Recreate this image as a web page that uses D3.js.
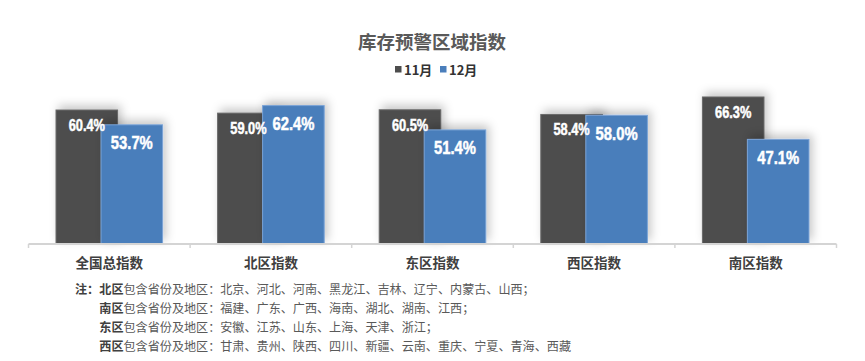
<!DOCTYPE html>
<html>
<head>
<meta charset="utf-8">
<script src="https://cdn.jsdelivr.net/npm/d3@7/dist/d3.min.js"></script>
<style>
  html, body { margin: 0; padding: 0; background: #fff; }
  svg { display: block; font-family: "Noto Sans CJK SC", "Noto Sans", sans-serif; }
</style>
</head>
<body>
<svg id="chart" width="865" height="361"></svg>
<script>
const title = "库存预警区域指数";
const categories = ["全国总指数", "北区指数", "东区指数", "西区指数", "南区指数"];
const seriesNames = ["11月", "12月"];
const nov = [0.604, 0.590, 0.605, 0.584, 0.663];
const dec = [0.537, 0.624, 0.514, 0.580, 0.471];
const colors = ["#4d4d4d", "#4a7ebb"];
const strokes = ["#6a6a6a", "#7aa3d6"];
const noteLead = "注：";
const noteRegions = ["北区", "南区", "东区", "西区"];
const noteMid = "包含省份及地区：";
const noteLists = [
  "北京、河北、河南、黑龙江、吉林、辽宁、内蒙古、山西；",
  "福建、广东、广西、海南、湖北、湖南、江西；",
  "安徽、江苏、山东、上海、天津、浙江；",
  "甘肃、贵州、陕西、四川、新疆、云南、重庆、宁夏、青海、西藏"
];

const svg = d3.select("#chart");

const defs = svg.append("defs");
const f = defs.append("filter").attr("id", "shadow")
  .attr("x", "-30%").attr("y", "-30%").attr("width", "160%").attr("height", "160%");
f.append("feDropShadow").attr("dx", 3).attr("dy", -4).attr("stdDeviation", 5)
  .attr("flood-color", "#000").attr("flood-opacity", 0.22);

const x = d3.scaleBand().domain(categories).range([28.5, 836.5]).padding(0);
const y = d3.scaleLinear().domain([0, 0.7]).range([243.5, 88.8]);

const barW = 61.6, overlap = 16.6;
const span = 2 * barW - overlap;

// title
svg.append("text").attr("x", 432).attr("y", 49).attr("text-anchor", "middle")
  .attr("font-size", 18.5).attr("font-weight", "bold").attr("fill", "#595959").text(title);

// legend
const legend = svg.append("g");
const legX = [395, 440];
seriesNames.forEach((s, i) => {
  legend.append("rect").attr("x", legX[i]).attr("y", 66).attr("width", 6.5).attr("height", 6.5).attr("fill", colors[i]);
  legend.append("text").attr("x", legX[i] + 9).attr("y", 74.5).attr("font-size", 13)
    .attr("font-weight", "bold").attr("fill", "#333").text(s);
});

const data = categories.map((c, i) => ({ c, v: [nov[i], dec[i]] }));

// bars
[0, 1].forEach(si => {
  svg.append("g").selectAll("rect").data(data).join("rect")
    .attr("x", d => x(d.c) + x.bandwidth() / 2 - span / 2 + si * (barW - overlap))
    .attr("y", d => y(d.v[si]))
    .attr("width", barW)
    .attr("height", d => y(0) - y(d.v[si]))
    .attr("fill", colors[si])
    .attr("stroke", strokes[si]).attr("stroke-width", 1)
    .attr("filter", "url(#shadow)");
});

// labels (condensed bold look via horizontal scaling)
const labelSize = [16, 18.5];
const labelOff = [21, 24.3];
[0, 1].forEach(si => {
  svg.append("g").selectAll("text").data(data).join("text")
    .attr("transform", d => {
      const cx = x(d.c) + x.bandwidth() / 2 - span / 2 + si * (barW - overlap) + barW / 2;
      return `translate(${cx},${y(d.v[si]) + labelOff[si]}) scale(0.8,1)`;
    })
    .attr("text-anchor", "middle")
    .attr("font-family", "'Liberation Sans', Arial, sans-serif")
    .attr("font-weight", "bold")
    .attr("font-size", labelSize[si])
    .attr("fill", "#fff")
    .attr("stroke", "#fff").attr("stroke-width", 0.5)
    .text(d => (d.v[si] * 100).toFixed(1) + "%");
});

// axis line and boundary ticks
const axisY = 244;
svg.append("line").attr("x1", x.range()[0]).attr("x2", x.range()[1])
  .attr("y1", axisY).attr("y2", axisY).attr("stroke", "#d4d4d4").attr("stroke-width", 2);
const bounds = categories.map(c => x(c)).concat([x.range()[1]]);
svg.append("g").selectAll("line").data(bounds).join("line")
  .attr("x1", d => d).attr("x2", d => d).attr("y1", axisY).attr("y2", axisY + 4)
  .attr("stroke", "#d4d4d4").attr("stroke-width", 1.5);

const axis = svg.append("g").attr("transform", `translate(0,${axisY})`)
  .call(d3.axisBottom(x).tickSize(0).tickPadding(14));
axis.select(".domain").remove();
axis.selectAll("text").attr("font-size", 13.5).attr("font-weight", "bold")
  .attr("fill", "#404040").attr("font-family", "'Noto Sans CJK SC', sans-serif");

// notes
const notes = svg.append("g").attr("font-size", 12.1).attr("fill", "#595959");
notes.append("text").attr("x", 75).attr("y", 294).attr("font-weight", "bold").attr("fill", "#404040").text(noteLead);
const lineY = [294, 313, 332, 350.5];
noteRegions.forEach((r, i) => {
  const t = notes.append("text").attr("x", 99.3).attr("y", lineY[i]);
  t.append("tspan").attr("font-weight", "bold").attr("fill", "#404040").text(r);
  t.append("tspan").text(noteMid + noteLists[i]);
});
</script>
</body>
</html>
